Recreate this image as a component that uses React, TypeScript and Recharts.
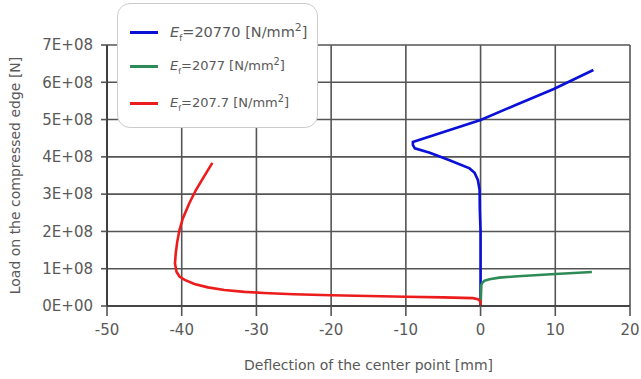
import React from 'react';
import { LineChart, Line, XAxis, YAxis, CartesianGrid, Legend } from 'recharts';

// Deflection [mm] / Load [N]
const blueData = [
  { x: 0, y: 0 }, { x: 0, y: 1.0e8 }, { x: 0, y: 2.0e8 }, { x: -0.1, y: 2.57e8 },
  { x: -0.13, y: 3.11e8 }, { x: -0.36, y: 3.38e8 }, { x: -0.8, y: 3.57e8 },
  { x: -1.47, y: 3.69e8 }, { x: -4.15, y: 3.91e8 }, { x: -6.8, y: 4.11e8 },
  { x: -8.8, y: 4.23e8 }, { x: -9.06, y: 4.32e8 }, { x: -9.06, y: 4.4e8 },
  { x: 0, y: 4.99e8 }, { x: 4.7, y: 5.39e8 }, { x: 9.8, y: 5.82e8 }, { x: 15.1, y: 6.33e8 },
];
const greenData = [
  { x: 0, y: 0 }, { x: 0.1, y: 0.56e8 }, { x: 0.25, y: 0.63e8 }, { x: 0.54, y: 0.68e8 },
  { x: 1.2, y: 0.72e8 }, { x: 2.5, y: 0.76e8 }, { x: 5, y: 0.8e8 }, { x: 10, y: 0.86e8 },
  { x: 14.9, y: 0.91e8 },
];
const redData = [
  { x: 0, y: 0 }, { x: 0, y: 0.12e8 }, { x: -0.36, y: 0.18e8 }, { x: -1.03, y: 0.21e8 },
  { x: -5, y: 0.23e8 }, { x: -10, y: 0.25e8 }, { x: -20, y: 0.29e8 }, { x: -25, y: 0.315e8 },
  { x: -29, y: 0.35e8 }, { x: -31.6, y: 0.38e8 }, { x: -34.3, y: 0.43e8 }, { x: -36.5, y: 0.5e8 },
  { x: -38.3, y: 0.59e8 }, { x: -39.6, y: 0.7e8 }, { x: -40.3, y: 0.79e8 },
  { x: -40.7, y: 0.92e8 }, { x: -40.9, y: 1.14e8 }, { x: -40.8, y: 1.41e8 },
  { x: -40.6, y: 1.72e8 }, { x: -40.3, y: 2.04e8 }, { x: -39.85, y: 2.35e8 },
  { x: -39.0, y: 2.75e8 }, { x: -38.1, y: 3.11e8 }, { x: -36.9, y: 3.51e8 }, { x: -35.9, y: 3.84e8 },
];

const seriesValues = ['20770', '2077', '207.7'];
const seriesColors = ['#0a10d8', '#2e8b57', '#ec1c1c'];
const seriesData = [blueData, greenData, redData];
const legendFontSizes = [14.5, 13, 13];

const xTicks = [-50, -40, -30, -20, -10, 0, 10, 20];
const yTicks = [0, 1e8, 2e8, 3e8, 4e8, 5e8, 6e8, 7e8];
const xTitle = 'Deflection of the center point [mm]';
const yTitle = 'Load on the compressed edge [N]';

const FONT = '"DejaVu Sans", sans-serif';
const TEXT = '#595959';
const GRID = '#555555';

const fmtY = (v: number) => (v === 0 ? '0E+00' : `${Math.round(v / 1e8)}E+08`);

const rowTops = [28, 62, 99];

const LegendBox = () => (
  <div
    style={{
      position: 'relative',
      width: 201,
      height: 125,
      boxSizing: 'border-box',
      border: '1px solid #cccccc',
      borderRadius: 13,
      background: '#ffffff',
      fontFamily: FONT,
      color: TEXT,
    }}
  >
    {seriesValues.map((v, i) => (
      <div key={v} style={{ position: 'absolute', left: 0, top: rowTops[i], width: '100%', height: 0 }}>
        <div
          style={{
            position: 'absolute',
            left: 12,
            top: -1.5,
            width: 28,
            height: 3,
            background: seriesColors[i],
          }}
        />
        <div
          style={{
            position: 'absolute',
            left: 52,
            top: -legendFontSizes[i] * 0.75,
            fontSize: legendFontSizes[i],
            lineHeight: 1.2,
            whiteSpace: 'nowrap',
          }}
        >
          <i>E</i>
          <sub style={{ fontSize: '0.6em' }}>f</sub>={v} [N/mm
          <sup style={{ fontSize: '0.75em' }}>2</sup>]
        </div>
      </div>
    ))}
  </div>
);

export default function App() {
  return (
    <div style={{ position: 'absolute', left: 0, top: 0, width: 641, height: 379, background: '#fff' }}>
      <LineChart width={641} height={379} margin={{ top: 45, right: 11, bottom: 43, left: 47 }}>
        <CartesianGrid stroke={GRID} strokeWidth={1.6} />
        <XAxis
          type="number"
          dataKey="x"
          domain={[-50, 20]}
          ticks={xTicks}
          interval={0}
          height={30}
          tickSize={10}
          tickMargin={8}
          stroke={GRID}
          tickLine={{ stroke: GRID, strokeWidth: 1.6 }}
          axisLine={{ stroke: '#333', strokeWidth: 1.6 }}
          tick={{ fill: TEXT, fontSize: 15, fontFamily: FONT }}
          label={{
            value: xTitle,
            position: 'center',
            dy: 44,
            style: { fill: TEXT, fontSize: 14, fontFamily: FONT },
          }}
        />
        <YAxis
          type="number"
          dataKey="y"
          domain={[0, 7e8]}
          ticks={yTicks}
          interval={0}
          width={60}
          tickSize={6}
          tickMargin={8}
          tickFormatter={fmtY}
          stroke={GRID}
          tickLine={{ stroke: GRID, strokeWidth: 1.6 }}
          axisLine={{ stroke: '#333', strokeWidth: 1.6 }}
          tick={{ fill: TEXT, fontSize: 15, fontFamily: FONT }}
          label={{
            value: yTitle,
            angle: -90,
            position: 'center',
            dx: -62,
            style: { fill: TEXT, fontSize: 14, fontFamily: FONT, textAnchor: 'middle' },
          }}
        />
        <Legend
          layout="vertical"
          align="center"
          verticalAlign="middle"
          content={() => <LegendBox />}
          wrapperStyle={{ left: 117, top: 3, width: 201, height: 125 }}
        />
        {seriesData.map((d, i) => (
          <Line
            key={seriesValues[i]}
            data={d}
            dataKey="y"
            type="linear"
            stroke={seriesColors[i]}
            strokeWidth={2.6}
            dot={false}
            isAnimationActive={false}
          />
        ))}
      </LineChart>
    </div>
  );
}
